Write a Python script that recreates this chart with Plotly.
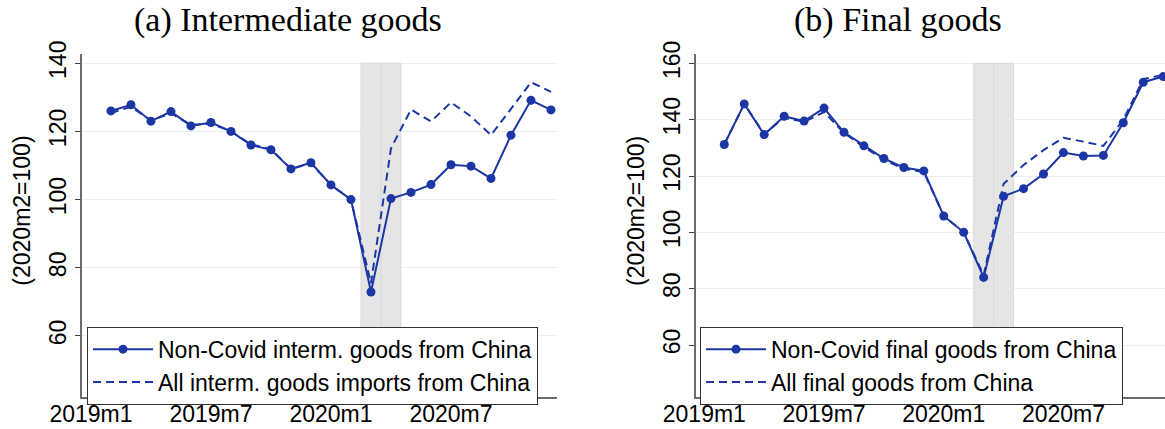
import plotly.graph_objects as go

# Monthly import indices (2020m2 = 100), 2019m2 .. 2020m12
months = ["2019m2", "2019m3", "2019m4", "2019m5", "2019m6", "2019m7", "2019m8",
          "2019m9", "2019m10", "2019m11", "2019m12", "2020m1", "2020m2", "2020m3",
          "2020m4", "2020m5", "2020m6", "2020m7", "2020m8", "2020m9", "2020m10",
          "2020m11", "2020m12"]

interm_noncovid = [126.0, 127.8, 123.0, 125.8, 121.6, 122.6, 120.0, 116.0, 114.6,
                   109.0, 110.8, 104.3, 100.0, 72.9, 100.3, 102.1, 104.4, 110.2,
                   109.8, 106.2, 118.9, 129.1, 126.3]
interm_all = [125.4, 127.2, 123.2, 125.3, 121.9, 122.3, 120.0, 116.2, 114.8,
              109.0, 110.6, 104.3, 100.0, 75.5, 115.0, 126.4, 122.9, 128.5,
              124.4, 118.9, 126.6, 134.4, 131.6]

final_noncovid = [131.2, 145.6, 134.7, 141.2, 139.5, 144.1, 135.5, 130.7, 126.2,
                  123.0, 121.8, 105.8, 100.0, 84.0, 112.8, 115.5, 120.7, 128.3,
                  127.1, 127.3, 138.9, 153.3, 155.3]
final_all = [131.2, 145.6, 134.9, 140.7, 139.2, 142.7, 135.3, 130.3, 125.7,
             122.6, 121.4, 105.8, 100.0, 84.8, 117.2, 123.9, 129.2, 133.6,
             132.2, 130.7, 139.9, 154.4, 155.9]

x_tick_labels = ["2019m1", "2019m7", "2020m1", "2020m7"]
yticks_a = [60, 80, 100, 120, 140]
yticks_b = [60, 80, 100, 120, 140, 160]
lockdown_months = ["2020m3", "2020m4"]

panel_titles = ["(a) Intermediate goods", "(b) Final goods"]
legend_a = ["Non-Covid interm. goods from China", "All interm. goods imports from China"]
legend_b = ["Non-Covid final goods from China", "All final goods from China"]
y_title = "(2020m2=100)"


def month_index(label):
    year, month = label.split("m")
    return (int(year) - 2019) * 12 + int(month) - 1


x = [month_index(m) for m in months]
xt = [month_index(m) for m in x_tick_labels]
shade_x = [month_index(m) for m in lockdown_months]

BLUE = "#1b37a6"
SANS = "Liberation Sans, Arial, sans-serif"
SERIF = "Liberation Serif, Times New Roman, serif"
FS = 23

yr_a = [42.2, 142.6]
yr_b = [41.65, 163.2]

fig = go.Figure()

# shaded lockdown months
for xa, ya, yr, top in (("x", "y", yr_a, max(yticks_a)), ("x2", "y2", yr_b, max(yticks_b))):
    fig.add_trace(go.Bar(
        x=shade_x, y=[top - yr[0]] * len(shade_x), base=yr[0], width=1.0,
        marker=dict(color="#e5e5e5", line=dict(color="#dadada", width=1)),
        showlegend=False, hoverinfo="skip", xaxis=xa, yaxis=ya))

# panel (a)
fig.add_trace(go.Scatter(
    x=x, y=interm_noncovid, mode="lines+markers", name=legend_a[0],
    line=dict(color=BLUE, width=2), marker=dict(color=BLUE, size=9),
    xaxis="x", yaxis="y", legend="legend"))
fig.add_trace(go.Scatter(
    x=x, y=interm_all, mode="lines", name=legend_a[1],
    line=dict(color=BLUE, width=2, dash="8px,5px"),
    xaxis="x", yaxis="y", legend="legend"))

# panel (b)
fig.add_trace(go.Scatter(
    x=x, y=final_noncovid, mode="lines+markers", name=legend_b[0],
    line=dict(color=BLUE, width=2), marker=dict(color=BLUE, size=9),
    xaxis="x2", yaxis="y2", legend="legend2"))
fig.add_trace(go.Scatter(
    x=x, y=final_all, mode="lines", name=legend_b[1],
    line=dict(color=BLUE, width=2, dash="8px,5px"),
    xaxis="x2", yaxis="y2", legend="legend2"))

xaxis_common = dict(
    tickmode="array", tickvals=xt, ticktext=x_tick_labels, automargin=False,
    showgrid=False, zeroline=False, showline=True, linecolor="#6b6b6b", linewidth=1.5,
    ticks="outside", ticklen=5, tickcolor="#444", tickwidth=1, ticklabelstandoff=-9,
    tickfont=dict(family=SANS, size=FS, color="black"),
)
yaxis_common = dict(
    tickmode="array", showgrid=True, gridcolor="#e9f0f1", gridwidth=1, automargin=False,
    zeroline=False, showline=True, linecolor="#6b6b6b", linewidth=1.5,
    ticks="outside", ticklen=5, tickcolor="#444", tickwidth=1, tickangle=-90,
    tickfont=dict(family=SANS, size=FS, color="black"),
)

legend_common = dict(
    bgcolor="white", bordercolor="#333", borderwidth=1,
    font=dict(family=SANS, size=FS, color="black"),
    xanchor="left", yanchor="top", tracegroupgap=0, itemwidth=60,
)

fig.update_layout(
    template="none",
    width=1165, height=429, margin=dict(l=0, r=0, t=0, b=0, autoexpand=False),
    paper_bgcolor="white", plot_bgcolor="white", barmode="overlay",
    xaxis=dict(xaxis_common, domain=[0.0701, 0.4781], range=[-0.465, 23.3], anchor="y"),
    yaxis=dict(yaxis_common, domain=[0.0753, 0.8734], range=yr_a, tickvals=yticks_a, anchor="x"),
    xaxis2=dict(xaxis_common, domain=[0.5972, 1.0], range=[-0.431, 23.09], anchor="y2"),
    yaxis2=dict(yaxis_common, domain=[0.0753, 0.8734], range=yr_b, tickvals=yticks_b, anchor="x2"),
    legend=dict(legend_common, x=87 / 1165, y=1 - 326.7 / 429),
    legend2=dict(legend_common, x=700 / 1165, y=1 - 326.7 / 429),
    annotations=[
        dict(text=panel_titles[0], x=288 / 1165, y=1 - 20 / 429, xref="paper", yref="paper",
             xanchor="center", yanchor="middle", showarrow=False,
             font=dict(family=SERIF, size=34, color="black")),
        dict(text=panel_titles[1], x=898 / 1165, y=1 - 20 / 429, xref="paper", yref="paper",
             xanchor="center", yanchor="middle", showarrow=False,
             font=dict(family=SERIF, size=34, color="black")),
        dict(text=y_title, x=21.7 / 1165, y=1 - 211 / 429, xref="paper", yref="paper",
             xanchor="center", yanchor="middle", showarrow=False, textangle=-90,
             font=dict(family=SANS, size=FS, color="black")),
        dict(text=y_title, x=636 / 1165, y=1 - 211 / 429, xref="paper", yref="paper",
             xanchor="center", yanchor="middle", showarrow=False, textangle=-90,
             font=dict(family=SANS, size=FS, color="black")),
    ],
)

fig.write_html("out.html")
